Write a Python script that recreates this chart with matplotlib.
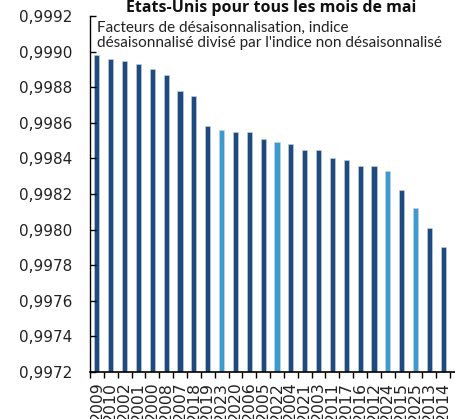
import matplotlib.pyplot as plt
from matplotlib.ticker import FixedLocator, FuncFormatter

# Données (facteurs de désaisonnalisation, mois de mai)
annees = ['2009', '2010', '2002', '2001', '2000', '2008', '2007', '2018', '2019',
          '2023', '2020', '2006', '2005', '2022', '2004', '2021', '2003', '2011',
          '2017', '2016', '2012', '2024', '2015', '2025', '2013', '2014']
facteurs = [0.99898, 0.99896, 0.99895, 0.99893, 0.99890, 0.99887, 0.99878, 0.99875,
            0.99858, 0.99856, 0.99855, 0.99855, 0.99851, 0.99849, 0.99848, 0.99845,
            0.99845, 0.99840, 0.99839, 0.99836, 0.99836, 0.99833, 0.99822, 0.99812,
            0.99801, 0.99790]
# années mises en évidence (couleur claire)
surlignees = ['2022', '2023', '2024', '2025']

fonce = '#1f4a80'
clair = '#3d9ad1'
couleurs = [clair if a in surlignees else fonce for a in annees]

W, H = 456, 419
fig = plt.figure(figsize=(W / 100, H / 100), dpi=100)
# l'axe déborde à droite, comme dans l'original (dernière étiquette coupée)
ax = fig.add_axes([90 / W, 47 / H, 374 / W, 356 / H])

x = list(range(len(annees)))
ax.bar(x, facteurs, width=0.37, color=couleurs, edgecolor='#c9d3e0', linewidth=0.4)

ax.set_ylim(0.9972, 0.9992)
ax.set_xlim(-0.5, len(annees) + 0.5)

yt = [0.9972 + 0.0002 * i for i in range(11)]
ax.set_yticks(yt)
ax.yaxis.set_major_formatter(FuncFormatter(lambda v, p: f'{v:.4f}'.replace('.', ',')))
ax.tick_params(axis='y', direction='in', length=4.5, width=1, pad=13,
               labelsize=11, labelcolor='#222222')

ax.set_xticks(x)
ax.set_xticklabels(annees, rotation=90, fontsize=11.3, color='#222222')
ax.tick_params(axis='x', which='major', length=0, pad=7)
ax.xaxis.set_minor_locator(FixedLocator([i - 0.5 for i in range(len(annees) + 2)]))
ax.tick_params(axis='x', which='minor', direction='out', length=4.5, width=1)

for s in ['top', 'right']:
    ax.spines[s].set_visible(False)
ax.spines['left'].set_linewidth(1)
ax.spines['bottom'].set_linewidth(1.2)

# titre (coupé en haut dans l'original)
fig.text(271 / W, 1 - 12 / H, "États-Unis pour tous les mois de mai",
         ha='center', va='baseline', fontsize=11.5, fontweight='bold',
         family='Open Sans', color='#111111')

ax.text(97 / W, 1 - 31.5 / H,
        "Facteurs de désaisonnalisation, indice",
        transform=fig.transFigure, ha='left', va='baseline',
        fontsize=11, family='Lato', color='#222222')
ax.text(97 / W, 1 - 47.3 / H,
        "désaisonnalisé divisé par l'indice non désaisonnalisé",
        transform=fig.transFigure, ha='left', va='baseline',
        fontsize=11, family='Lato', color='#222222')

fig.savefig('out.png', dpi=100)
